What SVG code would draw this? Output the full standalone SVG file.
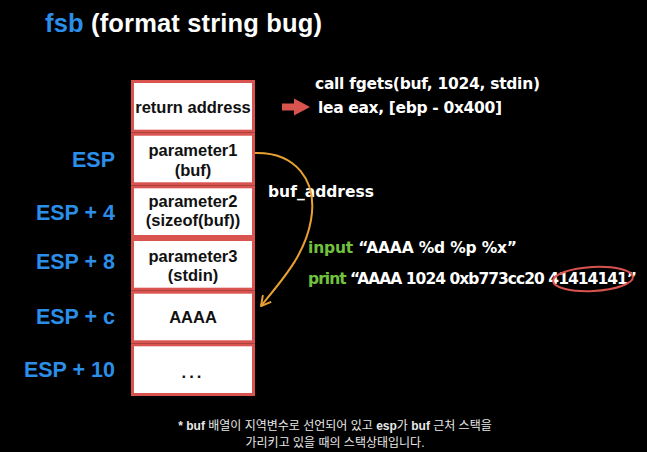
<svg xmlns="http://www.w3.org/2000/svg" width="647" height="452" viewBox="0 0 647 452">
<style>
text{font-family:"Liberation Sans",Arial,"Noto Sans CJK KR",sans-serif;font-weight:bold}
.blue{fill:#2b8ee8}
.white{fill:#ffffff}
.green{fill:#72c23f}
.esp{font-size:21.5px;fill:#2b8ee8;text-anchor:end}
.box rect{fill:#ffffff;stroke:#d9534f;stroke-width:3}
.box text{fill:#111111;text-anchor:middle;font-size:16.5px}
.code{font-family:"DejaVu Sans","Liberation Sans",sans-serif;font-size:15.5px;fill:#ffffff}
.note{font-size:12px;fill:#e8e8e8;text-anchor:middle;font-weight:normal}
.note .b{font-weight:bold}
</style>
<defs>
<marker id="openArrow" viewBox="0 0 12 12" refX="10" refY="6" markerWidth="12" markerHeight="12" markerUnits="userSpaceOnUse" orient="auto">
<polyline points="1,1 10,6 1,11" fill="none" stroke="#e8a030" stroke-width="2" stroke-linecap="round" stroke-linejoin="round"/>
</marker>
</defs>
<rect width="647" height="452" fill="#000000"/>
<g id="title">
<text x="45" y="32" font-size="25.5" textLength="277"><tspan class="blue">fsb</tspan><tspan class="white"> (format string bug)</tspan></text>
</g>
<g id="esp-labels">
<text class="esp" x="115" y="167">ESP</text>
<text class="esp" x="115" y="220">ESP + 4</text>
<text class="esp" x="115" y="269">ESP + 8</text>
<text class="esp" x="115" y="324">ESP + c</text>
<text class="esp" x="115" y="377">ESP + 10</text>
</g>
<g id="stack-return" class="box">
<rect x="132.5" y="81.5" width="121" height="49.7"/>
<text x="193" y="113" font-size="15.8">return address</text>
</g>
<g id="stack-param1" class="box">
<rect x="132.5" y="134.2" width="121" height="49.6"/>
<text x="193" y="156">parameter1</text>
<text x="193" y="176">(buf)</text>
</g>
<g id="stack-param2" class="box">
<rect x="132.5" y="186.8" width="121" height="49.7"/>
<text x="193" y="207">parameter2</text>
<text x="193" y="226">(sizeof(buf))</text>
</g>
<g id="stack-param3" class="box">
<rect x="132.5" y="239.5" width="121" height="49.7"/>
<text x="193" y="262">parameter3</text>
<text x="193" y="281">(stdin)</text>
</g>
<g id="stack-aaaa" class="box">
<rect x="132.5" y="292.2" width="121" height="49.6"/>
<text x="193" y="323">AAAA</text>
</g>
<g id="stack-more" class="box">
<rect x="132.5" y="344.8" width="121" height="49.7"/>
<text x="193" y="378" letter-spacing="3">...</text>
</g>
<g id="code">
<polygon points="282,103.5 294,103.5 294,98.5 310,107 294,115.5 294,110.5 282,110.5" fill="#d9534f"/>
<text class="code" x="315" y="89" textLength="225">call fgets(buf, 1024, stdin)</text>
<text class="code" x="318" y="113" textLength="184">lea eax, [ebp - 0x400]</text>
</g>
<g id="buf-address-label">
<text class="code" x="268" y="197" textLength="106">buf_address</text>
</g>
<g id="io">
<text class="code" x="308" y="253" textLength="209"><tspan class="green">input</tspan> “AAAA %d %p %x”</text>
<text class="code" x="308" y="284" textLength="329"><tspan class="green">print</tspan> “AAAA 1024 0xb773cc20 41414141”</text>
<ellipse cx="593" cy="279" rx="40" ry="12" fill="none" stroke="#d9534f" stroke-width="2" transform="rotate(-3 593 279)"/>
</g>
<g id="connectors">
<path d="M255,153 C295,152 318,180 311,220 C305,255 282,280 261,306" fill="none" stroke="#e8a030" stroke-width="2" marker-end="url(#openArrow)"/>
</g>
<g id="footnote">
<text class="note" x="335" y="430"><tspan class="b">* buf</tspan> 배열이 지역변수로 선언되어 있고 <tspan class="b">esp</tspan>가 <tspan class="b">buf</tspan> 근처 스택을</text>
<text class="note" x="335" y="447">가리키고 있을 때의 스택상태입니다.</text>
</g>
</svg>
